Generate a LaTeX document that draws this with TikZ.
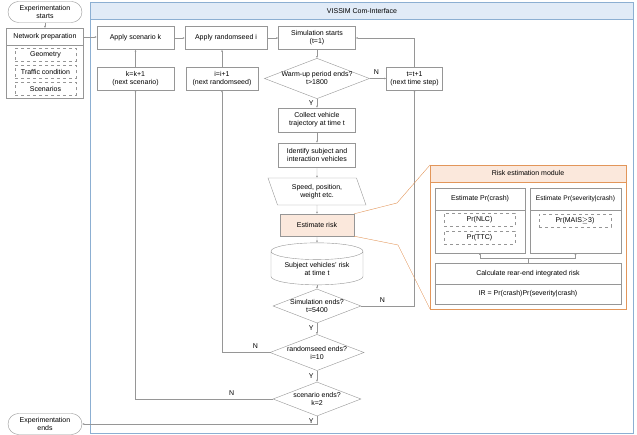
\documentclass[tikz,border=0pt]{standalone}
\usepackage{fontspec}
\setmainfont{Liberation Sans}
\usetikzlibrary{shapes.geometric,shapes.misc,arrows.meta}
\definecolor{linegray}{RGB}{150,150,150}
\definecolor{peach}{RGB}{251,232,220}
\definecolor{orangeline}{RGB}{226,150,90}
\definecolor{headblue}{RGB}{225,235,247}
\definecolor{frameblue}{RGB}{140,175,210}
\tikzset{
  box/.style={draw=linegray,fill=white,minimum width=#1,minimum height=23pt,align=center,inner sep=1pt},
  box/.default=77pt,
  dbox/.style={draw=linegray,dashed,minimum width=#1,minimum height=13pt,inner sep=0pt},
  dec/.style={draw=linegray,diamond,aspect=2.6,inner sep=0pt,minimum width=88pt,minimum height=34pt,align=center,fill=white},
  term/.style={draw=linegray,rounded rectangle,minimum width=74pt,minimum height=21pt,align=center,inner sep=0pt,fill=white},
  flow/.style={draw=linegray,-{Latex[length=2pt,width=2pt]}},
  lab/.style={font=\fontsize{7}{7}\selectfont}
}
\begin{document}
\begin{tikzpicture}[x=1pt,y=-1pt,font=\fontsize{7}{8}\selectfont]
\useasboundingbox (0,0) rectangle (637,435);
% VISSIM frame
\draw[frameblue,fill=headblue] (90,2) rectangle (633,19);
\draw[frameblue] (90,19) rectangle (633,433);
\node (vissim) at (362,11) {VISSIM Com-Interface};
% network preparation
\draw[linegray] (6,28) rectangle (83,98);
\node (prep) at (45,37) {Network preparation};
\draw[linegray] (6,45) -- (83,45);
\node[dbox=61pt] (geo) at (45.5,55) {Geometry};
\node[dbox=61pt] (traffic) at (45.5,72) {Traffic condition};
\node[dbox=61pt] (scen) at (45.5,89) {Scenarios};
\coordinate (prepE) at (83,37);
\coordinate (prepN) at (45,28);
\node[term] (start) at (45,12) {Experimentation\\starts};
\node[term] (stop) at (45,424) {Experimentation\\ends};
% main column
\node[box] (applyk) at (135.5,38) {Apply scenario k};
\node[box=82pt] (applyi) at (226,38) {Apply randomseed i};
\node[box] (simstart) at (317,38) {Simulation starts\\(t=1)};
\node[box] (kinc) at (135.5,78.5) {k=k+1\\(next scenario)};
\node[box=72pt] (iinc) at (222,78.5) {i=i+1\\(next randomseed)};
\node[dec] (warm) at (317,78.5) {Warm-up period ends?\\t>1800};
\node[box=56pt] (tinc) at (414.5,78.5) {t=t+1\\(next time step)};
\node[box,minimum height=24pt] (collect) at (317,120) {Collect vehicle\\trajectory at time t};
\node[box,minimum height=24pt] (ident) at (317,155) {Identify subject and\\interaction vehicles};
\node[draw=linegray,trapezium,trapezium left angle=120,trapezium right angle=60,trapezium stretches body,minimum width=98pt,minimum height=27pt,inner sep=1pt,align=center] (speed) at (317,191.5) {Speed, position,\\weight etc.};
\node[box=74pt,fill=peach,minimum height=22pt] (risk) at (317,225) {Estimate risk};
\node[draw=linegray,cylinder,shape border rotate=90,aspect=0.25,minimum width=92pt,minimum height=42pt,align=center,inner sep=1pt] (store) at (317,269) {Subject vehicles' risk\\at time t};
\node[dec] (simend) at (317,306) {Simulation ends?\\t=5400};
\node[dec] (seedend) at (317,352.5) {randomseed ends?\\i=10};
\node[dec] (scenend) at (317,399) {scenario ends?\\k=2};
% connectors
\draw[flow] (start) -- (prepN);
\draw[flow] (prepE) -- (applyk.west|-prepE);
\draw[flow] (applyk) -- (applyi);
\draw[flow] (applyi) -- (simstart);
\draw[flow] (simstart) -- (warm);
\draw[flow] (warm) -- node[lab,above,pos=0.4] {N} (tinc);
\draw[flow] (tinc.north) |- (simstart.east);
\draw[flow] (warm) -- node[lab,left,pos=0.45] {Y} (collect);
\draw[flow] (collect) -- (ident);
\draw[flow] (ident) -- (speed);
\draw[flow] (speed) -- (risk);
\draw[flow] (risk) -- (store);
\draw[flow] (store) -- (simend);
\draw[flow] (simend.east) -| node[lab,above,pos=0.2] {N} (tinc.south);
\draw[flow] (simend) -- node[lab,left,pos=0.45] {Y} (seedend);
\draw[flow] (seedend.west) -| node[lab,above,pos=0.15] {N} (iinc.south);
\draw[flow] (iinc) -- (applyi.south-|iinc);
\draw[flow] (seedend) -- node[lab,left,pos=0.45] {Y} (scenend);
\draw[flow] (scenend.west) -| node[lab,above,pos=0.15] {N} (kinc.south);
\draw[flow] (kinc) -- (applyk);
\draw[flow] (scenend.south) -- node[lab,left,pos=0.6] {Y} (317,424) -- (stop.east);
% risk estimation module
\draw[orangeline] (risk.north east) -- (397,203) -- (430,165);
\draw[orangeline] (risk.south east) -- (398,245) -- (430,309);
\draw[orangeline,fill=white] (430,165) rectangle (626,309);
\draw[orangeline,fill=peach] (430,165) rectangle (626,182);
\node (module) at (528,173.5) {Risk estimation module};
\draw[linegray] (435,188) rectangle (525,253);
\draw[linegray] (435,210) -- (525,210);
\node (crash) at (480,199) {Estimate Pr(crash)};
\node[dbox=71pt] (nlc) at (479.5,220) {Pr(NLC)};
\node[dbox=71pt] (ttc) at (479.5,237.5) {Pr(TTC)};
\draw[linegray] (530,188) rectangle (621,253);
\draw[linegray] (530,210) -- (621,210);
\node[font=\fontsize{6.6}{7}\selectfont] (sev) at (575.5,199) {Estimate Pr(severity|crash)};
\node[dbox=72pt] (mais) at (575,220.5) {Pr(MAIS$\geq$3)};
\draw[linegray] (435,263) rectangle (621,304);
\draw[linegray] (435,284) -- (621,284);
\node (calc) at (528,273.5) {Calculate rear-end integrated risk};
\node (ir) at (528,294) {IR = Pr(crash)Pr(severity|crash)};
\draw[flow] (528,263) -- (528,258) -| (480,253);
\draw[flow] (528,258) -| (575.5,253);
\end{tikzpicture}
\end{document}
